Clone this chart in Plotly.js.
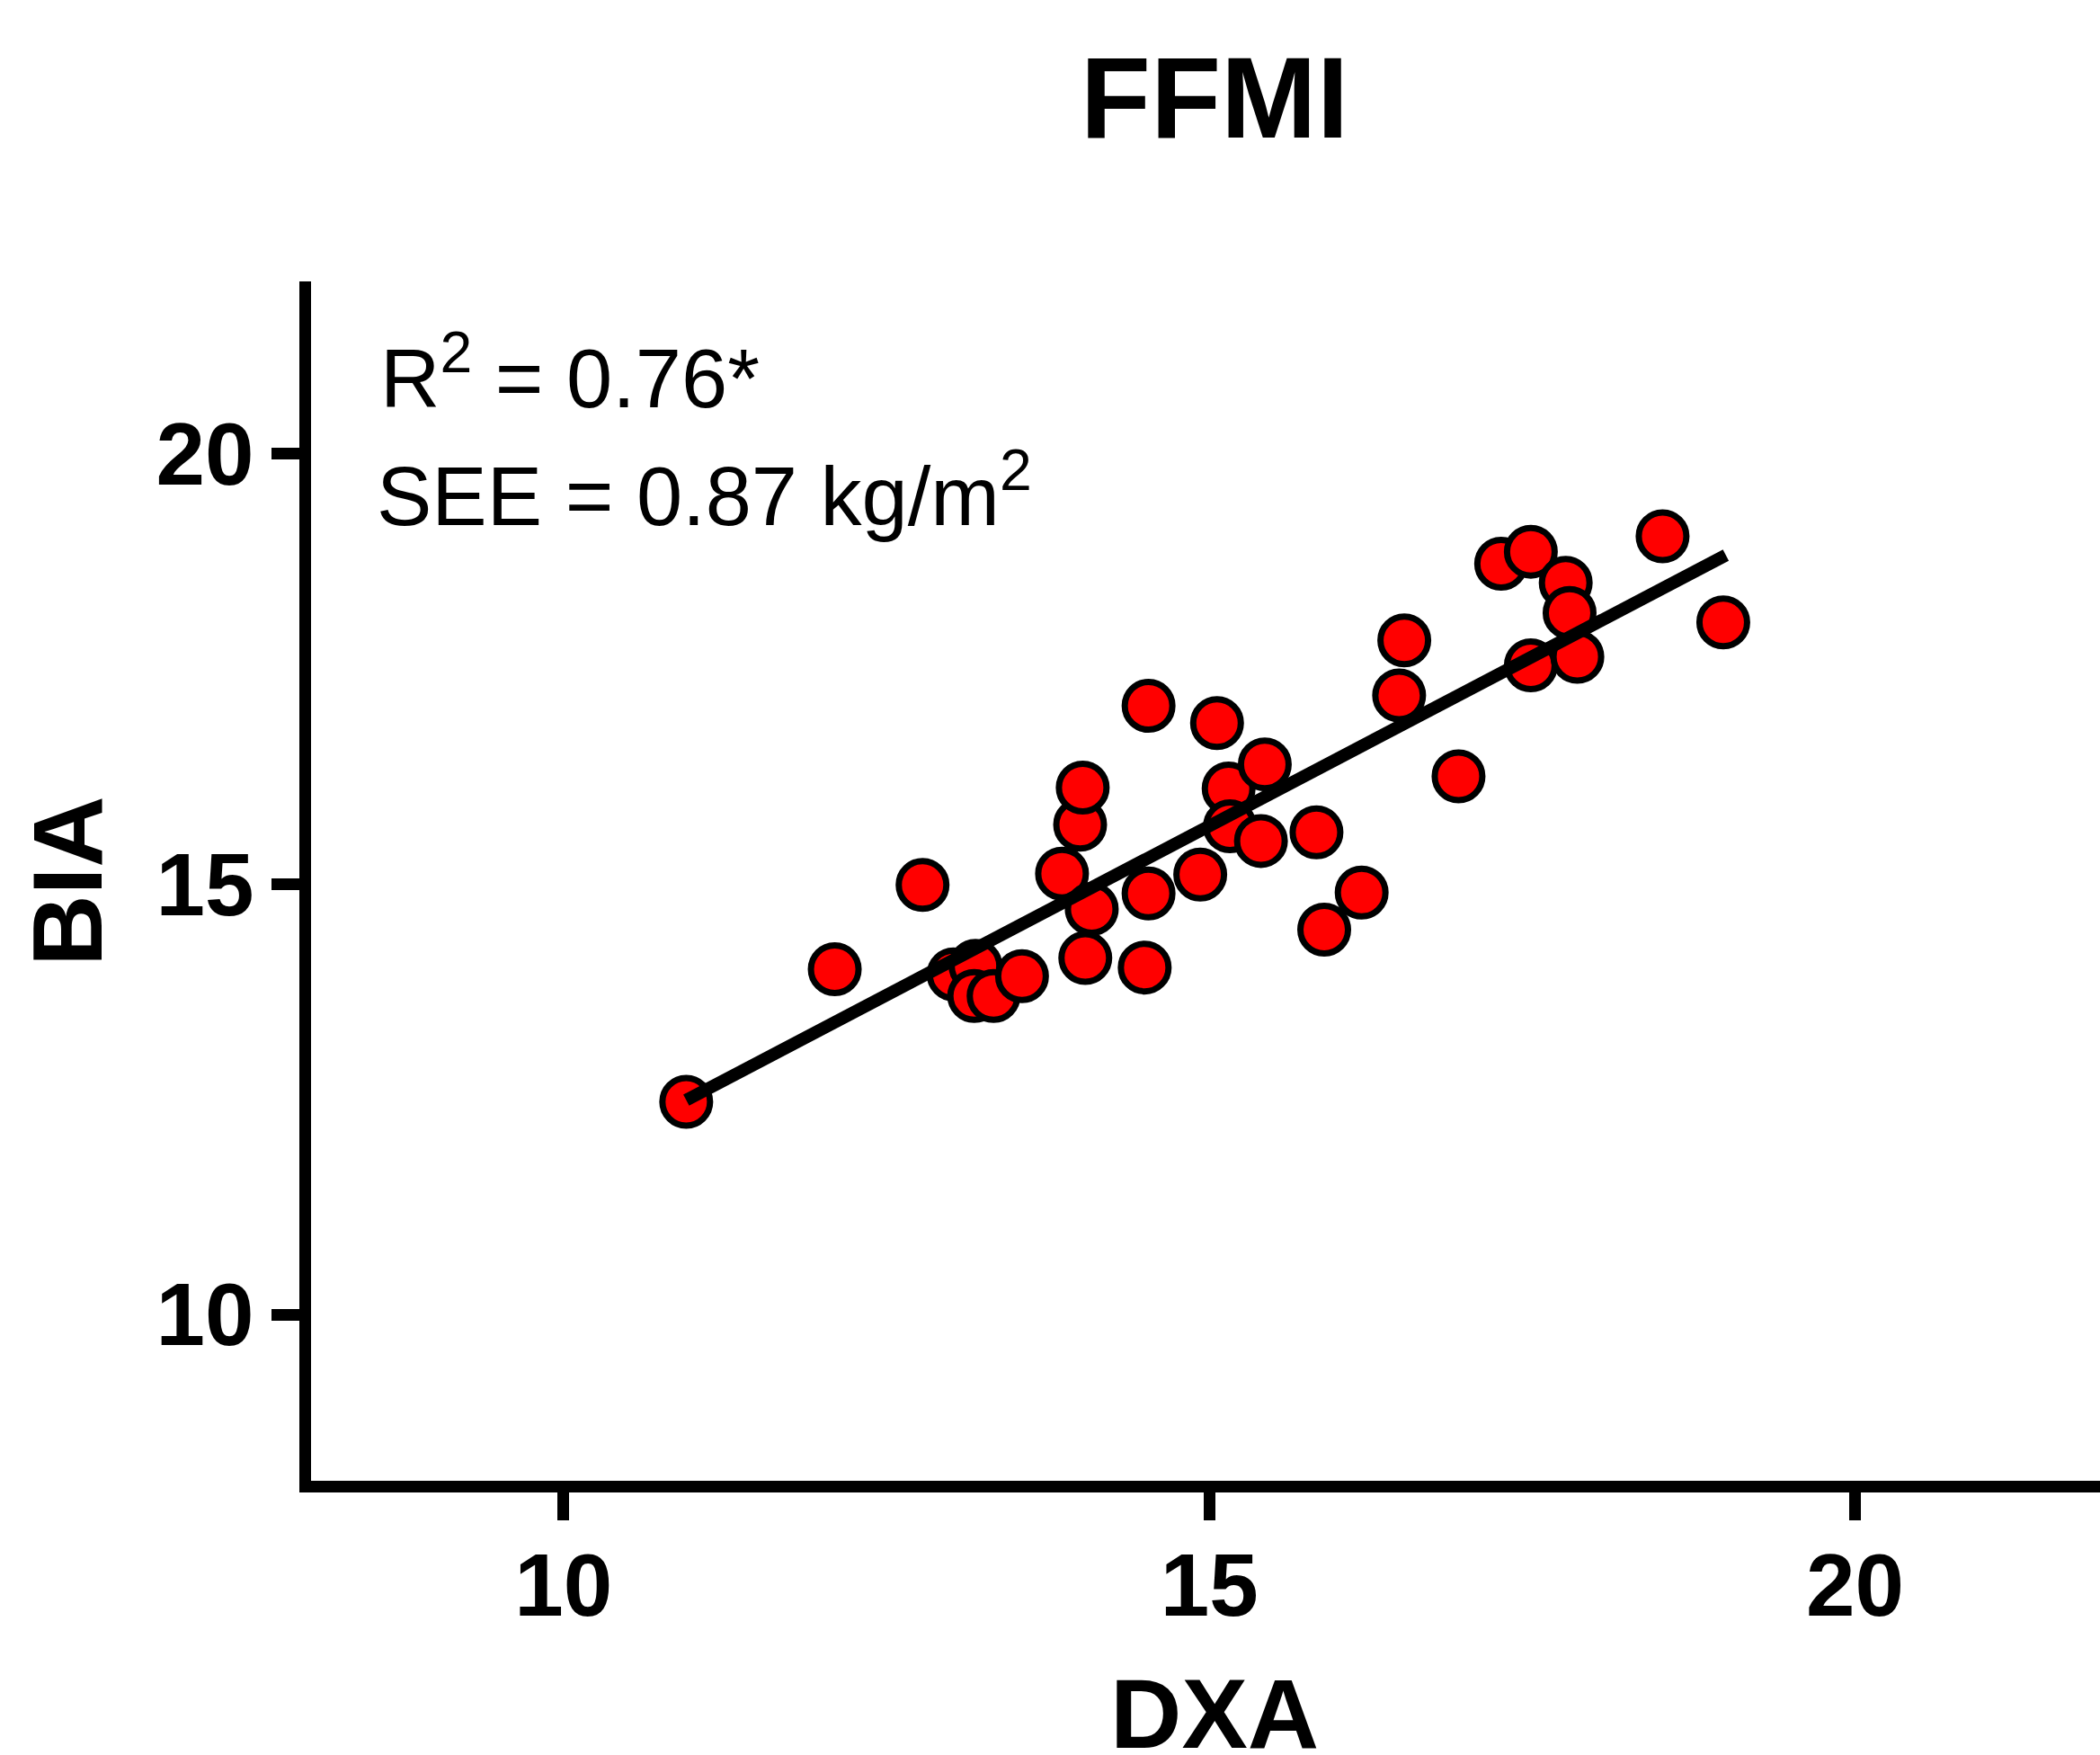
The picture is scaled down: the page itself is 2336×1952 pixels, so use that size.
<!DOCTYPE html>
<html>
<head>
<meta charset="utf-8">
<script src="https://cdn.plot.ly/plotly-3.0.1.min.js"></script>
<style>html,body{margin:0;padding:0;background:#fff;}#chart{width:2336px;height:1952px;}</style>
</head>
<body>
<div id="chart"></div>
<script>
// DXA vs BIA fat-free mass index (kg/m^2)
const dxa = [10.95, 12.10, 12.78, 13.02, 13.19, 13.18, 13.33, 13.55, 13.86, 14.00, 14.02, 14.09,
             14.04, 14.50, 14.53, 14.53, 14.93, 15.06, 15.15, 15.16, 15.43, 15.40, 15.83, 15.89,
             16.18, 16.47, 16.51, 16.93, 17.26, 17.49, 17.76, 17.79, 17.49, 17.85, 18.51, 18.98];
const bia = [12.47, 14.01, 14.99, 13.95, 14.05, 13.70, 13.70, 13.93, 15.12, 15.69, 16.12, 14.71,
             14.14, 14.03, 14.89, 17.07, 15.11, 16.87, 16.11, 15.67, 16.39, 15.50, 15.60, 14.47,
             14.90, 17.19, 17.83, 16.25, 18.72, 18.86, 18.50, 18.15, 17.54, 17.64, 19.04, 18.04];
// regression line end points
const fitX = [10.95, 19.0];
const fitY = [12.49, 18.82];

const xTicks = [10, 15, 20];
const yTicks = [10, 15, 20];
const chartTitle = 'FFMI';
const xLabel = 'DXA';
const yLabel = 'BIA';
const statR2 = 'R<sup>2</sup> = 0.76*';
const statSEE = 'SEE = 0.87 kg/m<sup>2</sup>';

const fontFam = 'Liberation Sans, Arial, Helvetica, sans-serif';

const traces = [
  {
    x: dxa, y: bia, type: 'scatter', mode: 'markers',
    marker: {color: '#ff0000', size: 53, line: {color: '#000000', width: 7}},
    hoverinfo: 'skip', showlegend: false
  },
  {
    x: fitX, y: fitY, type: 'scatter', mode: 'lines',
    line: {color: '#000000', width: 14},
    hoverinfo: 'skip', showlegend: false
  }
];

const axisCommon = {
  showgrid: false, zeroline: false, showline: true,
  linecolor: '#000', linewidth: 13,
  ticks: 'outside', ticklen: 31, tickwidth: 13, tickcolor: '#000',
  tickfont: {family: fontFam, size: 98, color: '#000', weight: 'bold'}
};

const layout = {
  width: 2336, height: 1952,
  paper_bgcolor: '#fff', plot_bgcolor: '#fff',
  margin: {l: 345.5, r: 0, t: 313, b: 304.5},
  font: {family: fontFam, color: '#000'},
  title: {
    text: '<b>' + chartTitle + '</b>',
    font: {family: fontFam, size: 128, color: '#000'},
    xref: 'container', x: 1351 / 2336, xanchor: 'center',
    yref: 'container', y: 1 - 108 / 1952, yanchor: 'middle'
  },
  xaxis: Object.assign({}, axisCommon, {
    range: [8.045, 21.897], tickvals: xTicks, ticktext: xTicks.map(String),
    ticklabelstandoff: -12
  }),
  yaxis: Object.assign({}, axisCommon, {
    range: [8.068, 22], tickvals: yTicks, ticktext: yTicks.map(String),
    title: {text: '<b>' + yLabel + '</b>', font: {family: fontFam, size: 110, color: '#000'}, standoff: 28}
  }),
  annotations: [
    {text: '<b>' + xLabel + '</b>', xref: 'paper', yref: 'paper', x: (1351 - 345.5) / 1990.5, y: -0.1937,
     xanchor: 'center', yanchor: 'middle', showarrow: false,
     font: {family: fontFam, size: 110, color: '#000'}},
    {text: statR2, xref: 'paper', yref: 'paper', x: 0.0379, y: 0.9243, xanchor: 'left', yanchor: 'middle',
     showarrow: false, font: {family: fontFam, size: 92, color: '#000'}},
    {text: statSEE, xref: 'paper', yref: 'paper', x: 0.0359, y: 0.8262, xanchor: 'left', yanchor: 'middle',
     showarrow: false, font: {family: fontFam, size: 92, color: '#000'}}
  ]
};

Plotly.newPlot('chart', traces, layout, {displayModeBar: false, staticPlot: true});
</script>
</body>
</html>
